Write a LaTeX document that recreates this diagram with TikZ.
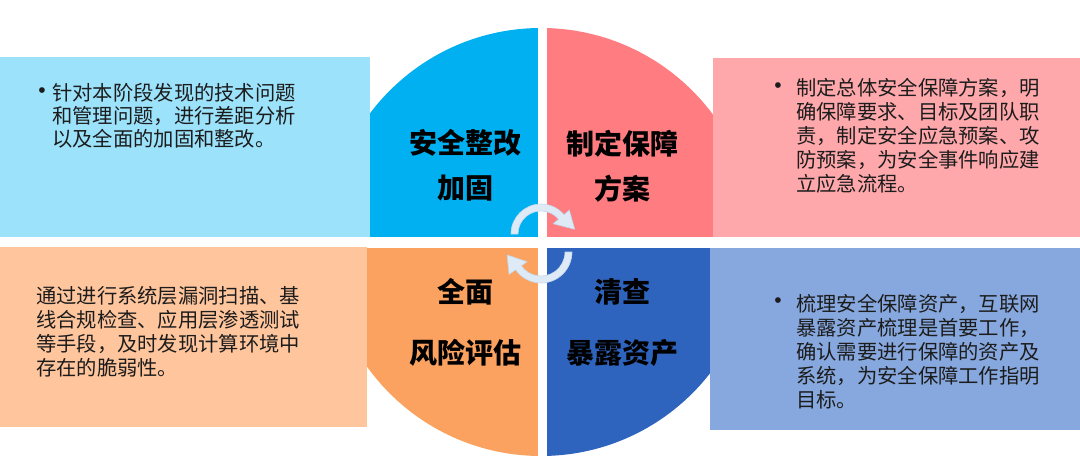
\documentclass[tikz,border=0pt]{standalone}
\usepackage{fontspec}
\setmainfont{Noto Sans CJK SC}
\newfontfamily\latinfont{Liberation Sans}
\usetikzlibrary{calc}
\definecolor{qblue}{HTML}{00B0F0}
\definecolor{qpink}{HTML}{FF7C80}
\definecolor{qorange}{HTML}{FBA260}
\definecolor{qnavy}{HTML}{2F64BE}
\definecolor{bblue}{HTML}{9BE2FA}
\definecolor{bpink}{HTML}{FFA8AC}
\definecolor{borange}{HTML}{FFC59C}
\definecolor{bnavy}{HTML}{87A8DE}
\definecolor{arrowfill}{HTML}{DEEBF7}
\definecolor{arrowline}{HTML}{C2D8EE}
\definecolor{txt}{HTML}{1C1C1C}
\tikzset{
  body/.style={font=\fontsize{20.3}{24}\selectfont, text=txt, align=left, inner sep=0pt, anchor=west},
  quadlabel/.style={font=\bfseries\fontsize{28}{45}\selectfont, text=black, align=center, inner sep=0pt},
  bulletmark/.style={font=\latinfont\fontsize{21}{21}\selectfont, text=txt, inner sep=0pt},
  arrowshape/.style={fill=arrowfill, draw=arrowline, line width=0.6pt, line join=round}
}
\begin{document}
\begin{tikzpicture}[x=1pt,y=-1pt]
\useasboundingbox (0,0) rectangle (1080,471);
\fill[white] (0,0) rectangle (1080,471);
% circle quadrants
\begin{scope}
\clip (541,242) circle (214);
\fill[qblue] (320,20) rectangle (538,237);
\fill[qpink] (547,20) rectangle (762,237);
\fill[qorange] (320,248) rectangle (538,462);
\fill[qnavy] (547,248) rectangle (762,462);
\end{scope}
% side boxes
\fill[bblue] (0,57) rectangle (370,237);
\fill[bpink] (713,58) rectangle (1080,237);
\fill[borange] (0,247) rectangle (367,427);
\fill[bnavy] (710,248) rectangle (1080,430);
% circular arrows
\coordinate (c1) at (541,234);
\coordinate (c2) at (541,252);
\path[arrowshape] ($(c1)+(-180:30)$) arc[start angle=-180,end angle=-40,radius=30]
  -- ($(c1)+(-40:37)$) -- ($(c1)+(-8:34)$) -- ($(c1)+(-40:16)$) -- ($(c1)+(-40:23)$)
  arc[start angle=-40,end angle=-180,radius=23] -- cycle;
\path[arrowshape] ($(c2)+(0:31)$) arc[start angle=0,end angle=145,radius=31]
  -- ($(c2)+(145:39)$) -- ($(c2)+(175:34)$) -- ($(c2)+(145:17)$) -- ($(c2)+(145:24)$)
  arc[start angle=145,end angle=0,radius=24] -- cycle;
% quadrant labels
\node[quadlabel] (l1) at (465,165.5) {安全整改\\加固};
\node[quadlabel] (l2) at (622,166.5) {制定保障\\方案};
\node[quadlabel, font=\bfseries\fontsize{28}{61}\selectfont] (l3) at (465,322.5) {全面\\风险评估};
\node[quadlabel, font=\bfseries\fontsize{28}{61}\selectfont] (l4) at (622,322.5) {清查\\暴露资产};
% box texts
\node[bulletmark] (b1) at (42,93) {•};
\node[body, font=\fontsize{20.3}{23}\selectfont] (t1) at (52,116) {针对本阶段发现的技术问题\\和管理问题，进行差距分析\\以及全面的加固和整改。};
\node[bulletmark] (b2) at (778,88) {•};
\node[body] (t2) at (796,135.5) {制定总体安全保障方案，明\\确保障要求、目标及团队职\\责，制定安全应急预案、攻\\防预案，为安全事件响应建\\立应急流程。};
\node[body] (t3) at (36,332) {通过进行系统层漏洞扫描、基\\线合规检查、应用层渗透测试\\等手段，及时发现计算环境中\\存在的脆弱性。};
\node[bulletmark] (b4) at (778,303) {•};
\node[body] (t4) at (796,351.3) {梳理安全保障资产，互联网\\暴露资产梳理是首要工作，\\确认需要进行保障的资产及\\系统，为安全保障工作指明\\目标。};
\end{tikzpicture}
\end{document}
